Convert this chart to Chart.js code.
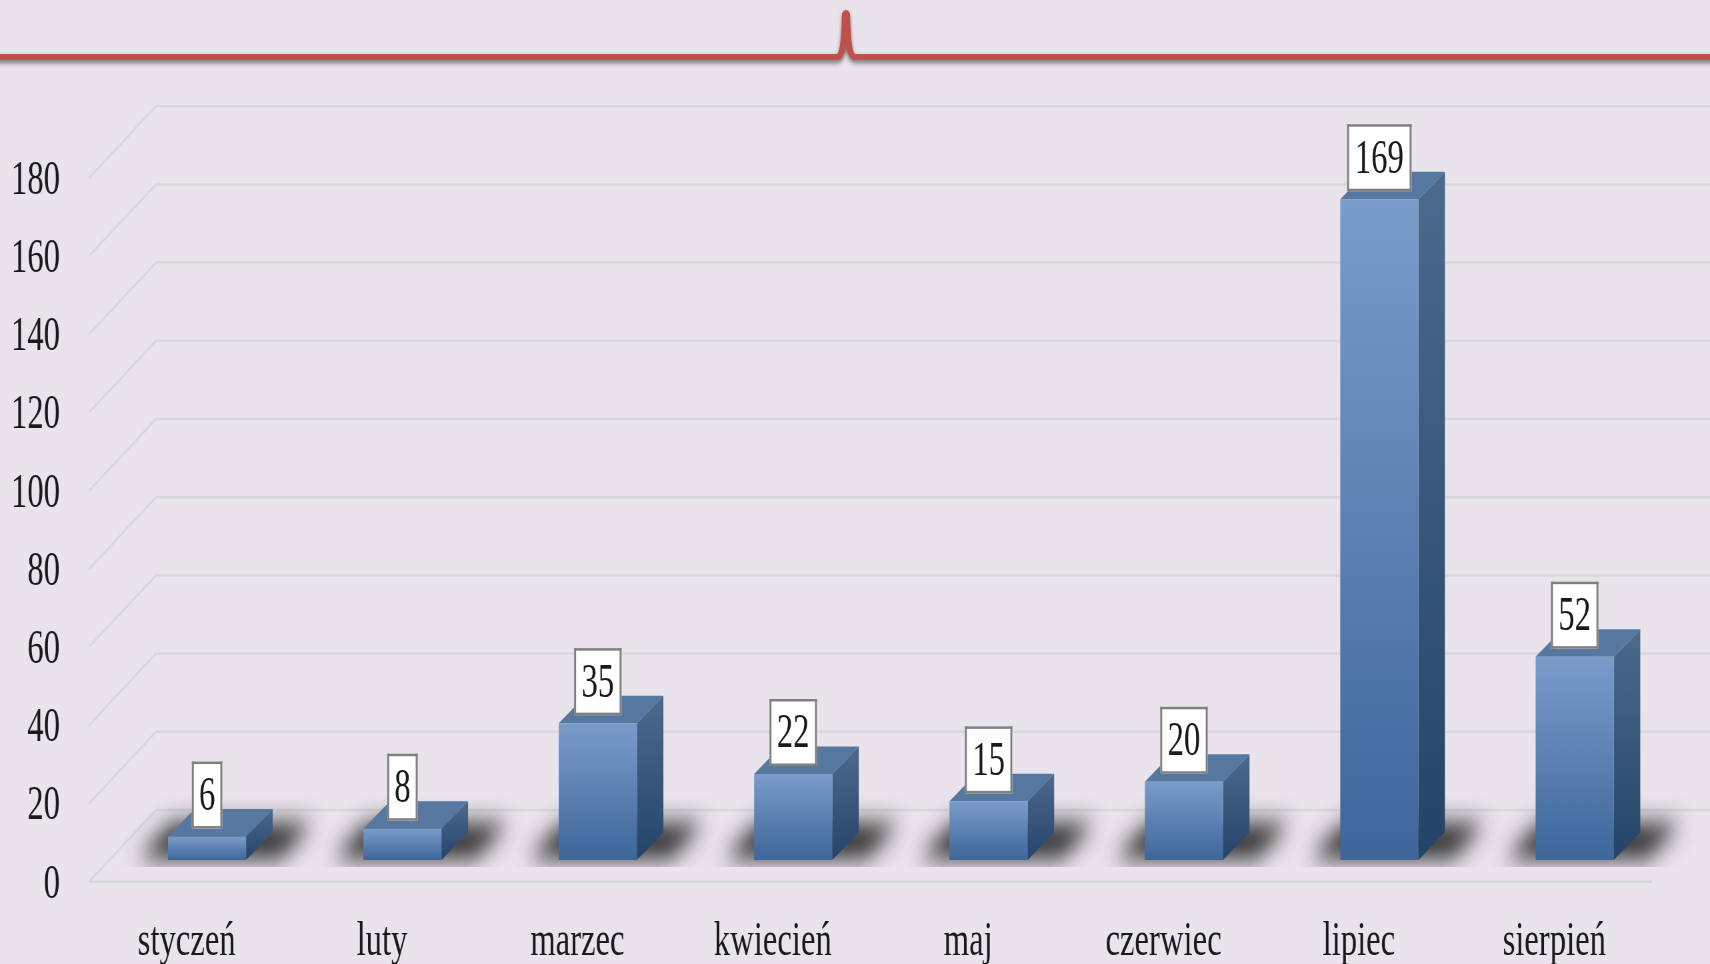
<!DOCTYPE html>
<html><head><meta charset="utf-8">
<style>html,body{margin:0;padding:0;background:#e9e4eb;overflow:hidden}
canvas{display:block;filter:blur(0.6px)}</style>
<script src="https://cdn.jsdelivr.net/npm/chart.js@4"></script>
</head><body><canvas id="c" width="2565" height="964" style="width:1710px;height:964px"></canvas>
<script>
const categories = ['styczeń','luty','marzec','kwiecień','maj','czerwiec','lipiec','sierpień'];
const values = [6,8,35,22,15,20,169,52];
const yTicks = [0,20,40,60,80,100,120,140,160,180];

// Text in the picture is condensed: canvas is 1.5x wider than displayed.
const SX = 1.5;
const FONT = '"Liberation Serif", serif';
const BG = '#e9e4eb', GRID = '#d8d7da';
const WALL_DX = 67*SX, WALL_DY = 71.7;      // front plane -> back wall
const BAR_DX = 20.4*SX, BAR_DY = 21.7;      // front plane -> bar front face
const DEPTH_X = 26.5*SX, DEPTH_Y = 27.5;    // bar depth

const scene = {
  id:'scene',
  beforeDraw(chart){
    const c = chart.ctx;
    c.save(); c.fillStyle = BG; c.fillRect(0,0,chart.width,chart.height);
    // decorative rule with peak at top
    c.save(); c.scale(SX,1);
    c.shadowColor='rgba(40,40,40,.6)'; c.shadowBlur=5; c.shadowOffsetY=3;
    c.strokeStyle='#c0504d'; c.lineWidth=6; c.lineJoin='round'; c.lineCap='round';
    c.beginPath(); c.moveTo(-10,57); c.lineTo(836,57);
    c.bezierCurveTo(842,57,844,50,845,14);
    c.quadraticCurveTo(846,12,847,14);
    c.bezierCurveTo(848,50,850,57,856,57);
    c.lineTo(1720,57); c.stroke();
    c.restore();
    c.restore();
  },
  beforeDatasetsDraw(chart){
    const c = chart.ctx, y = chart.scales.y, x = chart.scales.x;
    // gridlines: floor/side wall and back wall, positioned through the y scale
    c.save(); c.strokeStyle = GRID; c.lineWidth = 2.5;
    yTicks.forEach(v=>{
      const p = y.getPixelForValue(v);
      c.beginPath(); c.moveTo(x.left,p); c.lineTo(x.left+WALL_DX,p-WALL_DY); c.lineTo(chart.width,p-WALL_DY); c.stroke();
    });
    const p0 = y.getPixelForValue(0);
    c.beginPath(); c.moveTo(x.left,p0); c.lineTo(x.right,p0); c.stroke();
    c.restore();
    // translate bars onto the floor
    c.save(); c.translate(BAR_DX,-BAR_DY);
    const els = chart.getDatasetMeta(0).data;
    // floor shadows
    els.forEach(el=>{
      const w = el.width, l = el.x-w/2, r = el.x+w/2, b = el.base;
      c.save();
      c.beginPath(); c.rect(l-120*SX, b-120, w+260*SX, 127); c.clip();
      c.shadowColor='rgba(30,28,30,.95)'; c.shadowBlur=26;
      c.shadowOffsetX=6000;
      c.fillStyle='#000';
      c.beginPath();
      c.moveTo(l-6000-31*SX,b-2); c.lineTo(r-6000+33*SX,b-2);
      c.lineTo(r-6000+68*SX,b-36); c.lineTo(l-6000+4*SX,b-36);
      c.closePath(); c.fill();
      c.restore();
    });
    // side and top faces
    els.forEach(el=>{
      const w = el.width, r = el.x+w/2, l = el.x-w/2, t = el.y, b = el.base;
      const g = c.createLinearGradient(0,t-DEPTH_Y,0,b);
      g.addColorStop(0,'#4c6a8e'); g.addColorStop(1,'#254469');
      c.fillStyle = g;
      c.beginPath(); c.moveTo(r,t); c.lineTo(r+DEPTH_X,t-DEPTH_Y); c.lineTo(r+DEPTH_X,b-DEPTH_Y); c.lineTo(r,b); c.closePath(); c.fill();
      c.fillStyle = '#56779f';
      c.beginPath(); c.moveTo(l,t); c.lineTo(l+DEPTH_X,t-DEPTH_Y); c.lineTo(r+DEPTH_X,t-DEPTH_Y); c.lineTo(r,t); c.closePath(); c.fill();
    });
  },
  afterDatasetsDraw(chart){
    const c = chart.ctx;
    c.restore();
    // value labels
    const els = chart.getDatasetMeta(0).data;
    els.forEach((el,i)=>{
      const txt = String(values[i]);
      const w = (13.5+17*txt.length)*SX, h = 67;
      const cx = el.x+BAR_DX, bottom = el.y-BAR_DY-8;
      c.save();
      c.fillStyle='#fff';
      c.fillRect(cx-w/2,bottom-h,w,h);
      c.fillStyle='#808080';
      c.fillRect(cx-w/2,bottom-h,w,2.5); c.fillRect(cx-w/2,bottom-2.5,w,2.5);
      c.fillRect(cx-w/2,bottom-h,2*SX,h); c.fillRect(cx+w/2-2*SX,bottom-h,2*SX,h);
      c.fillStyle='#1a1a1a'; c.font='49px '+FONT; c.textAlign='center'; c.textBaseline='middle';
      c.fillText(txt,cx,bottom-h/2+2);
      c.restore();
    });
  }
};

new Chart(document.getElementById('c'),{
  type:'bar',
  data:{labels:categories,datasets:[{
    data:values, clip:false, borderWidth:0,
    barPercentage:0.4, categoryPercentage:1,
    backgroundColor(ctx){
      const ch = ctx.chart, ys = ch.scales.y;
      const fallback = '#5a82b4';
      if(!ys || ctx.raw===undefined) return fallback;
      const a = ys.getPixelForValue(ctx.raw), b = ys.getPixelForValue(0);
      if(!Number.isFinite(a) || !Number.isFinite(b)) return fallback;
      const g = ch.ctx.createLinearGradient(0,a,0,b);
      g.addColorStop(0,'#7a9ccb'); g.addColorStop(1,'#3e6699');
      return g;
    }
  }]},
  options:{
    responsive:false, animation:false, devicePixelRatio:1,
    layout:{padding:{top:177.9,right:58*SX,left:0,bottom:0}},
    plugins:{legend:{display:false},tooltip:{enabled:false},title:{display:false}},
    scales:{
      x:{
        grid:{display:false,drawTicks:false},border:{display:false},
        ticks:{color:'#1a1a1a',font:{family:FONT,size:49},padding:31,maxRotation:0,autoSkip:false},
        afterFit(s){s.height=964-881.7;}
      },
      y:{
        min:0,max:180,
        grid:{display:false,drawTicks:false},border:{display:false},
        ticks:{color:'#1a1a1a',font:{family:FONT,size:49},padding:29*SX,stepSize:20,labelOffset:3,
               callback:(v)=>yTicks.includes(v)?String(v):''},
        afterFit(s){s.width=89*SX;}
      }
    }
  },
  plugins:[scene]
});
</script></body></html>
